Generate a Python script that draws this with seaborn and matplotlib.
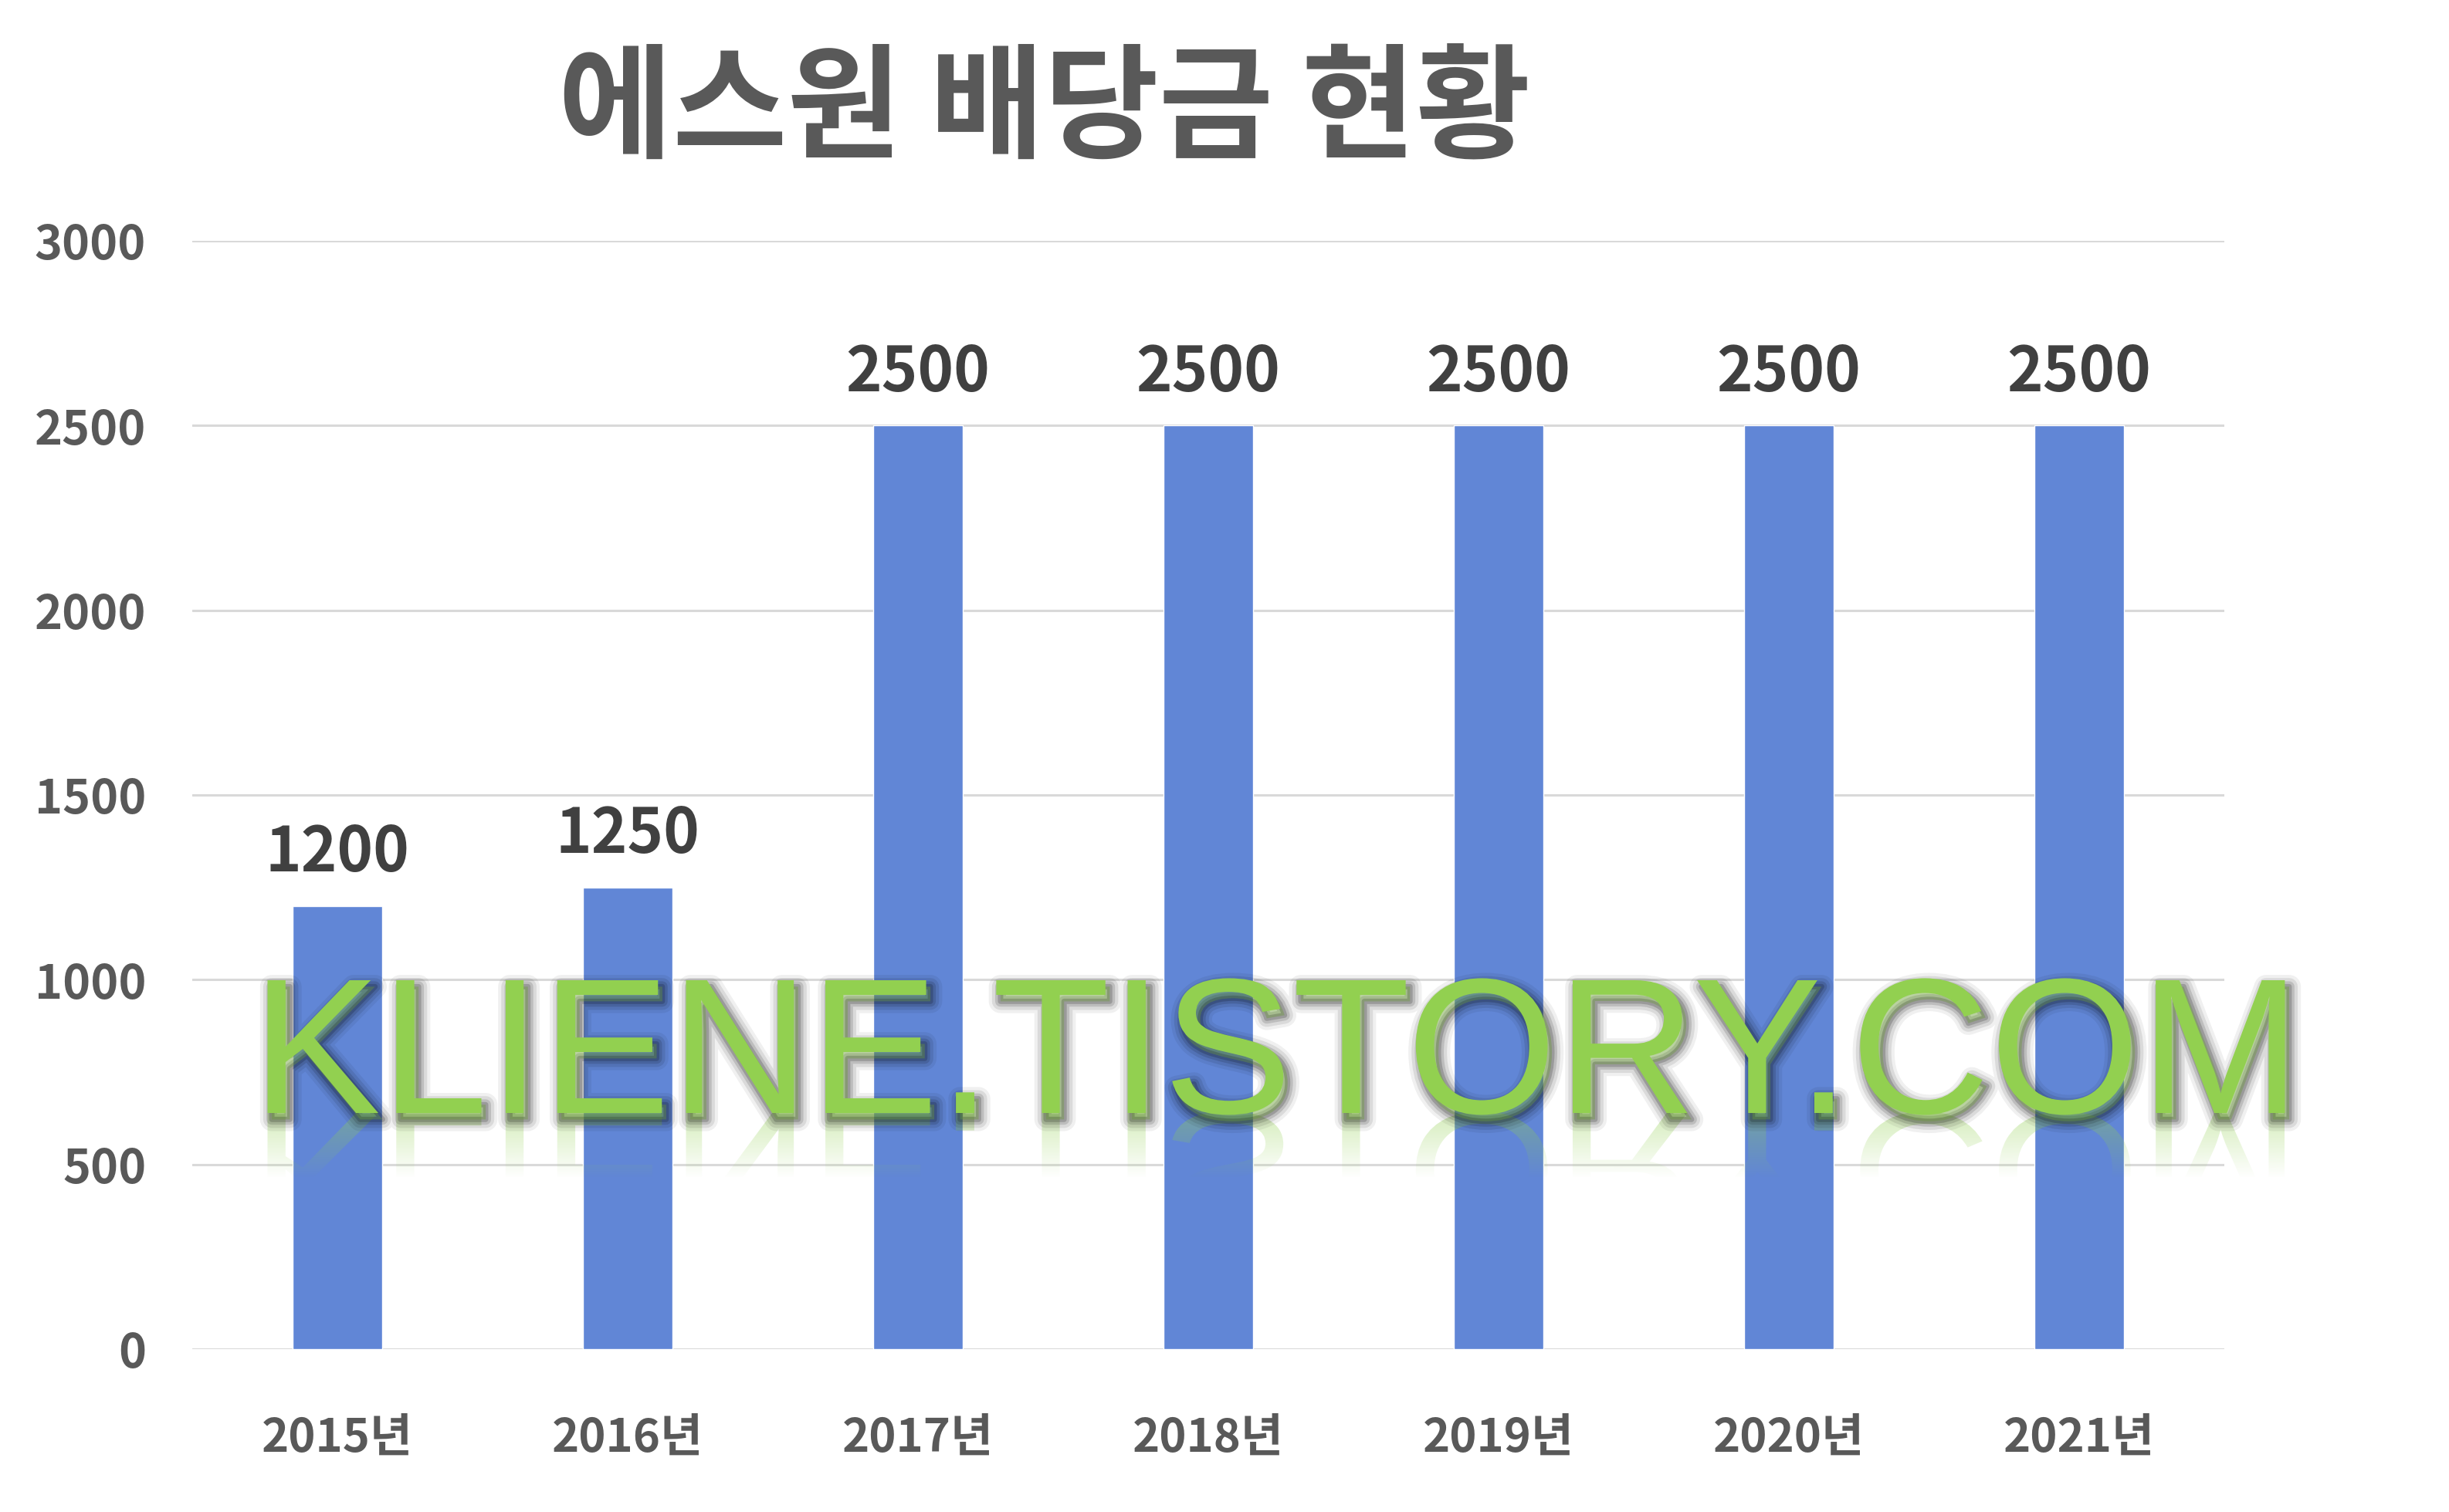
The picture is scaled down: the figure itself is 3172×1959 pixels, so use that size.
import numpy as np
import pandas as pd
import matplotlib
matplotlib.use("Agg")
import matplotlib.pyplot as plt
import matplotlib.patheffects as pe
from matplotlib.textpath import TextPath
from matplotlib.patches import PathPatch
from matplotlib.font_manager import FontProperties
from matplotlib.transforms import Affine2D
import seaborn as sns


# ---------------- DATA ---------------- #

years = ["2015년", "2016년", "2017년", "2018년", "2019년", "2020년", "2021년"]
dividends = [1200, 1250, 2500, 2500, 2500, 2500, 2500]
y_ticks = [0, 500, 1000, 1500, 2000, 2500, 3000]

TITLE = "에스원 배당금 현황"
WATERMARK = "KLIENE.TISTORY.COM"

BAR_COLOR = "#6186D6"
TICK_COLOR = "#595959"
LABEL_COLOR = "#404040"
GRID_COLOR = "#D9D9D9"
WM_COLOR = "#92D050"

W, H, DPI = 3172, 1959, 100


# ---------------- STYLE ---------------- #

sns.set_style("white")
plt.rcParams['font.family'] = ['Noto Sans CJK KR', 'DejaVu Sans']

df = pd.DataFrame({"year": years, "dividend": dividends})

fig = plt.figure(figsize=(W / DPI, H / DPI), dpi=DPI)
ax = fig.add_axes([249 / W, 1 - 1748 / H, (2881 - 249) / W, (1748 - 312) / H])

sns.barplot(
    data=df, x="year", y="dividend",
    color=BAR_COLOR, saturation=1, width=0.31,
    ax=ax, zorder=3
)

ax.set_xlim(-0.5, len(years) - 0.5)
ax.set_ylim(0, 3000)
ax.set_yticks(y_ticks)
ax.set_xlabel("")
ax.set_ylabel("")

for s in ax.spines.values():
    s.set_visible(False)

ax.yaxis.grid(True, color=GRID_COLOR, linewidth=2.2, zorder=0)
ax.xaxis.grid(False)
ax.set_axisbelow(True)

ax.tick_params(axis="y", length=0, pad=43, labelsize=44, labelcolor=TICK_COLOR)
ax.tick_params(axis="x", length=0, pad=62, labelsize=43, labelcolor=TICK_COLOR)
for lbl in ax.get_xticklabels() + ax.get_yticklabels():
    lbl.set_fontweight("bold")

ax.bar_label(ax.containers[0], labels=[str(v) for v in dividends],
             padding=20, fontsize=57, fontweight="bold", color=LABEL_COLOR)

# title
fig.text(0.4265, 0.926, TITLE, ha="center", va="center",
         fontsize=116, fontweight="black", color=TICK_COLOR)


# ---------------- WATERMARK ---------------- #

ov = fig.add_axes([0, 0, 1, 1], zorder=10)
ov.set_xlim(0, W)
ov.set_ylim(0, H)
ov.axis("off")
ov.patch.set_alpha(0)

wm_x, wm_base = 326, H - 1442
wm_size = 180

shadow = []
for lw, a in [(22, 0.06), (16, 0.09), (10, 0.13), (5, 0.18)]:
    shadow.append(pe.Stroke(offset=(4, -6), linewidth=lw, foreground="black", alpha=a))
shadow.append(pe.Normal())

# reflection
fp = FontProperties(family="Liberation Sans", size=wm_size)
tp = TextPath((0, 0), WATERMARK, size=wm_size * DPI / 72, prop=fp)
refl = Affine2D().scale(1, -0.85).translate(wm_x, wm_base).transform_path(tp)
patch = PathPatch(refl, facecolor="none", edgecolor="none", transform=ov.transData)
ov.add_patch(patch)

grad_h = 85
alpha = np.linspace(0.38, 0.0, 64)
rgba = np.zeros((64, 1, 4))
rgba[:, 0, :3] = matplotlib.colors.to_rgb(WM_COLOR)
rgba[:, 0, 3] = alpha
tw = tp.get_extents().width
im = ov.imshow(rgba, extent=[wm_x - 10, wm_x + tw + 20, wm_base - grad_h, wm_base],
               origin="upper", aspect="auto", zorder=1, interpolation="bilinear")
im.set_clip_path(patch)

ov.text(wm_x, wm_base, WATERMARK, fontsize=wm_size, family="Liberation Sans",
        color=WM_COLOR, ha="left", va="baseline", zorder=2, path_effects=shadow)

ov.set_xlim(0, W)
ov.set_ylim(0, H)

plt.savefig("out.png", dpi=DPI)
plt.close()
